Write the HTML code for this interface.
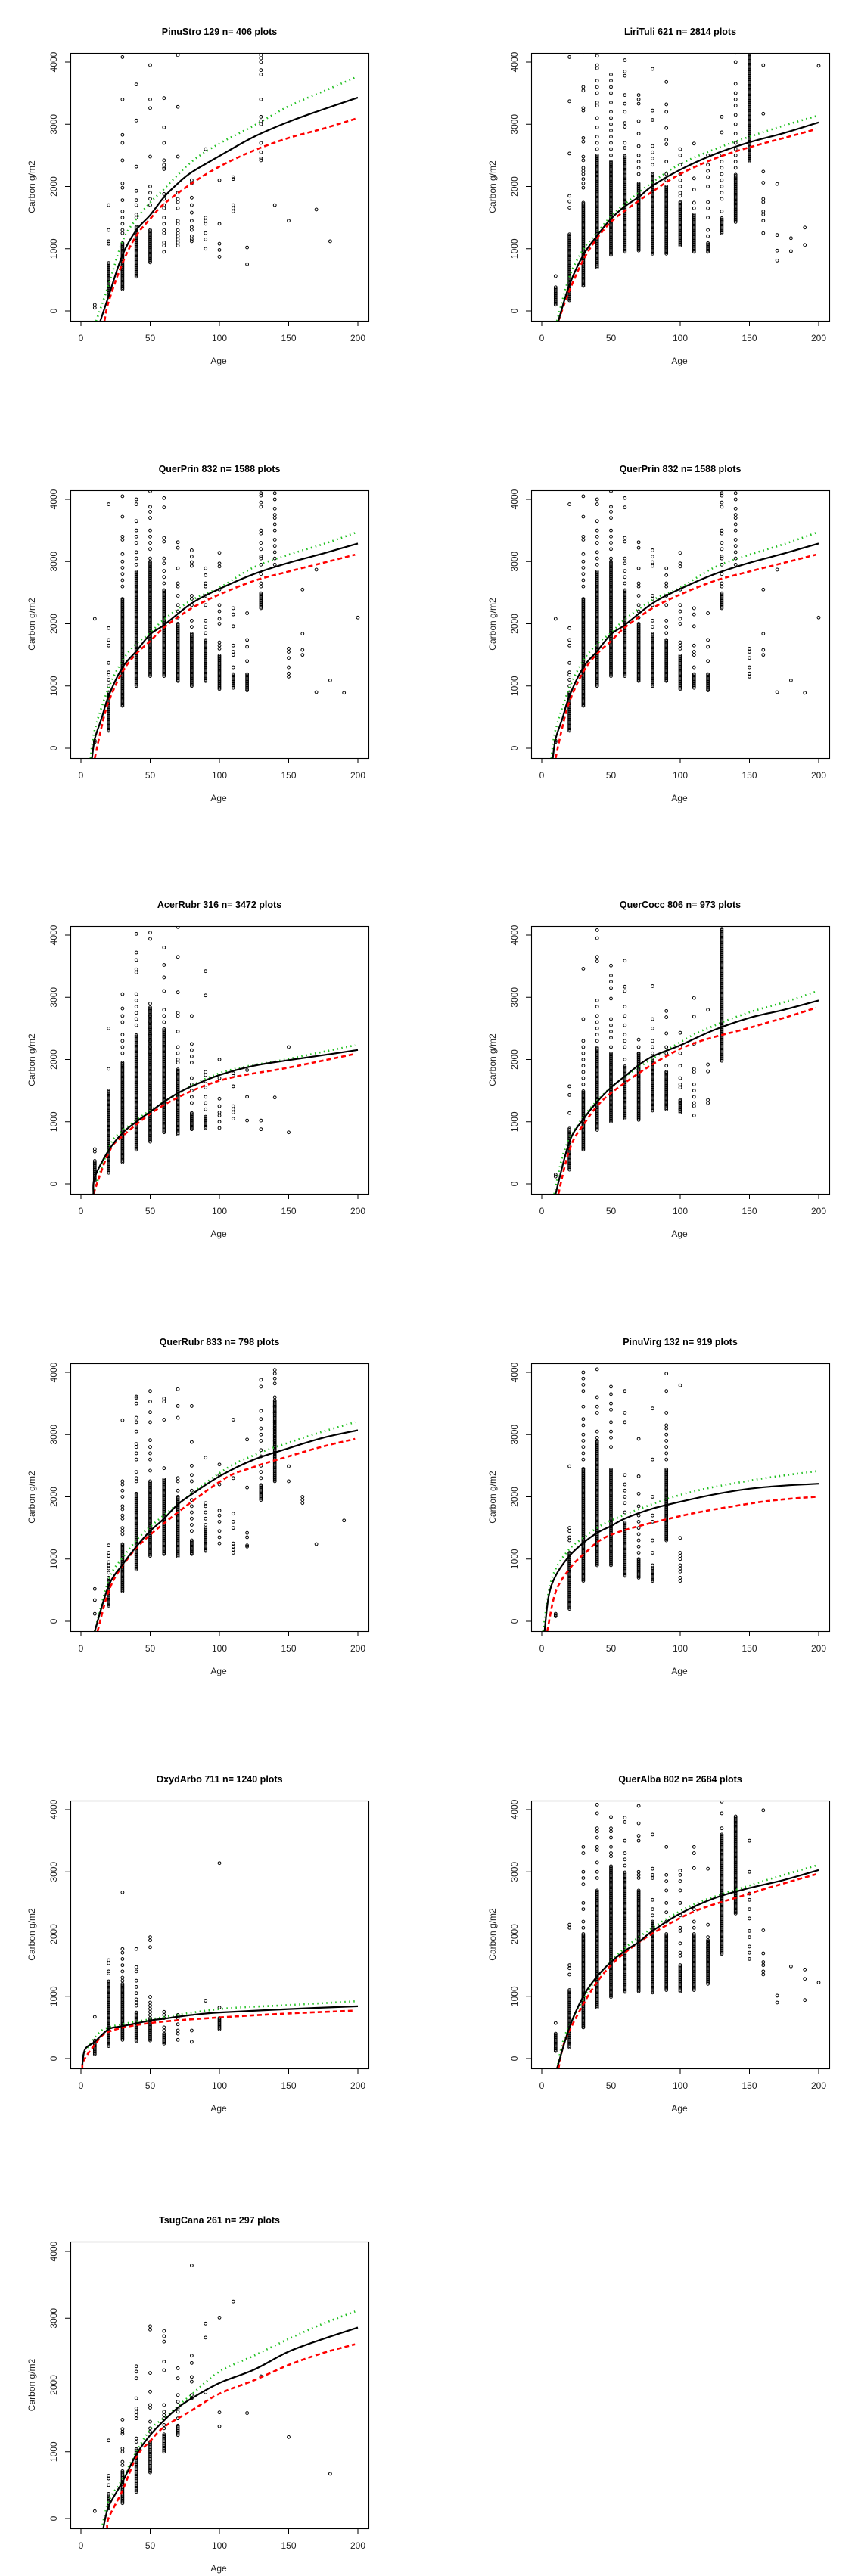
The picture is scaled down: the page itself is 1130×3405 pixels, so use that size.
<!DOCTYPE html>
<html><head><meta charset="utf-8"><style>
html,body{margin:0;padding:0;background:#fff;}
svg{display:block;font-family:"Liberation Sans",Arial,sans-serif;}
</style></head>
<body>
<svg id="chart" width="1130" height="3405" viewBox="0 0 1130 3405" xmlns="http://www.w3.org/2000/svg"></svg>
<script>
const panelTitles = ["PinuStro 129 n= 406 plots","LiriTuli 621 n= 2814 plots","QuerPrin 832 n= 1588 plots","QuerPrin 832 n= 1588 plots","AcerRubr 316 n= 3472 plots","QuerCocc 806 n= 973 plots","QuerRubr 833 n= 798 plots","PinuVirg 132 n= 919 plots","OxydArbo 711 n= 1240 plots","QuerAlba 802 n= 2684 plots","TsugCana 261 n= 297 plots"];
const xTicks = [0,50,100,150,200];
const yTicks = [0,1000,2000,3000,4000];

// dense point columns: [age, low, high]
const pinuStroDense = [[20,250,780],[30,350,1100],[40,550,1350],[50,780,1300]];
const liriTuliDense = [[10,100,380],[20,170,1230],[30,400,1750],[40,700,2500],[50,900,2400],[60,950,2500],[70,970,2050],[80,920,2200],[90,920,2000],[100,1050,1750],[110,950,1550],[120,950,1100],[130,1250,1500],[140,1430,2200],[150,2400,4150]];
const querPrinDense = [[20,280,900],[30,680,2400],[40,1000,2850],[50,1160,3000],[60,1160,2550],[70,1080,2000],[80,1000,1850],[90,1080,1750],[100,950,1500],[110,970,1200],[120,930,1200],[130,2250,2500]];
const acerRubrDense = [[10,50,380],[20,180,1500],[30,350,1950],[40,550,2400],[50,680,2850],[60,830,2500],[70,800,1850],[80,880,1150],[90,900,1080]];
const querCoccDense = [[20,230,900],[30,550,1500],[40,870,2200],[50,1000,2100],[60,1050,1900],[70,1030,2100],[80,1180,2000],[90,1200,1800],[100,1150,1350],[130,1980,4100]];
const querRubrDense = [[20,250,650],[30,480,1250],[40,830,2050],[50,1050,2250],[60,1080,2280],[70,1040,2000],[80,1080,1300],[90,1130,1500],[130,1950,2200],[140,2250,3550]];
const pinuVirgDense = [[10,80,130],[20,200,1100],[30,650,2450],[40,900,2900],[50,900,2450],[60,730,1600],[70,700,1000],[80,650,850],[90,1300,2450]];
const oxydArboDense = [[10,70,300],[20,200,1250],[30,300,1200],[40,280,750],[50,290,650],[60,240,400],[100,470,650]];
const querAlbaDense = [[10,120,400],[20,180,1100],[30,500,2000],[40,820,2700],[50,990,3100],[60,1070,3000],[70,1080,2700],[80,1060,2200],[90,1100,2000],[100,1080,1500],[110,1100,2000],[120,1200,1900],[130,1680,3600],[140,2330,3900]];
const tsugCanaDense = [[20,150,380],[30,230,720],[40,400,1050],[50,690,1150],[60,1000,1270],[70,1250,1400]];

// scattered points: [age, [values]]
const pinuStroPts = [[10,[50,100]],[20,[1700,1300,1120,1080]],[30,[4080,3400,2830,2700,2420,2050,1980,1780,1600,1500,1400,1300,1250]],[40,[3640,3060,2320,1930,1780,1700,1550,1500]],[50,[3950,3400,3260,2480,2000,1900,1800,1700]],[60,[3420,2950,2700,2420,2350,2300,2280,1880,1800,1700,1650,1500,1400,1300,1250,1100,1050,950]],[70,[4110,3280,2480,1900,1800,1750,1650,1450,1400,1300,1250,1200,1150,1100,1050]],[80,[2100,2050,1820,1700,1580,1450,1350,1300,1200,1150,1120]],[90,[2600,1500,1450,1400,1250,1150,1000]],[100,[2100,1400,1080,980,870]],[110,[2150,2120,1700,1650,1600]],[120,[1020,750]],[130,[4110,4060,4000,3870,3800,3400,3120,3050,3000,2700,2550,2450,2420]],[140,[1700]],[150,[1450]],[170,[1630]],[180,[1120]]];
const liriTuliPts = [[10,[560]],[20,[4080,3370,2530,1850,1760,1660]],[30,[4150,3600,3540,3260,3220,2780,2720,2480,2420,2300,2250,2200,2120,2050,1980]],[40,[4100,3950,3900,3700,3600,3500,3350,3300,3100,2950,2800,2700,2600]],[50,[3800,3700,3600,3500,3350,3200,3100,3000,2900,2800,2700,2600,2500]],[60,[4030,3850,3780,3470,3330,3200,3020,2960,2700,2620]],[70,[3470,3400,3330,3050,2850,2650,2500,2400,2300,2200]],[80,[3890,3220,3070,2650,2550,2450,2350]],[90,[3680,3320,3200,2940,2750,2680,2400,2200,2100]],[100,[2600,2500,2350,2200,2100,2000,1900,1850]],[110,[2690,2130,1950,1740,1650]],[120,[2500,2350,2250,2150,2000,1750,1650,1500,1300,1200]],[130,[3120,2870,2500,2400,2300,2200,2100,2000,1900,1800,1600,1450]],[140,[4150,4000,3650,3500,3400,3300,3150,3000,2850,2700,2600,2500,2400,2300]],[160,[3950,3170,2240,2060,1800,1750,1600,1550,1450,1250]],[170,[2040,1220,970,810]],[180,[1170,960]],[190,[1340,1060]],[200,[3940]]];
const querPrinPts = [[10,[2080,120,100]],[20,[3920,1930,1740,1650,1370,1220,1180,1100,1000]],[30,[4050,3720,3400,3350,3120,3000,2900,2800,2700,2600]],[40,[4000,3920,3650,3500,3400,3300,3150,3050,2950]],[50,[4130,3880,3800,3700,3500,3400,3300,3200,3050]],[60,[4020,3870,3380,3320,3050,2970,2850,2750,2650]],[70,[3310,3220,2890,2650,2600,2450,2300,2200,2100]],[80,[3180,3080,2990,2930,2450,2400,2300,2050,1950]],[90,[2890,2780,2650,2600,2450,2300,2050,1950,1850]],[100,[3140,2970,2920,2550,2300,2200,2080,2000,1700,1650,1600]],[110,[2250,2150,1960,1650,1550,1500,1300]],[120,[2170,1740,1630,1400]],[130,[4100,4060,3950,3880,3500,3450,3300,3200,3080,3050,2950,2800,2650,2600]],[140,[4100,4000,3850,3750,3700,3600,3500,3350,3250,3150,3050,2950]],[150,[1600,1550,1450,1300,1200,1150]],[160,[2550,1840,1580,1500]],[170,[2870,900]],[180,[1090]],[190,[890]],[200,[2100]]];
const acerRubrPts = [[10,[560,520]],[20,[2500,1850]],[30,[3050,2820,2700,2600,2400,2300,2200,2100]],[40,[4020,3720,3600,3450,3400,3050,2950,2850,2750,2650,2550]],[50,[4040,3940,2900,2800,2700,2600,2500,2400,2300,2200,2100]],[60,[3800,3520,3320,3100,2800,2700,2600]],[70,[4130,3650,3080,2750,2700,2450,2200,2100,2000,1950]],[80,[2700,2250,2150,2050,1950,1700,1600,1500,1400,1300]],[90,[3420,3030,1800,1750,1650,1550,1400,1300,1200]],[100,[2000,1700,1370,1250,1150,1100,1000,900]],[110,[1780,1740,1570,1250,1200,1150,1050]],[120,[1830,1400,1020]],[130,[1020,880]],[140,[1390]],[150,[2200,830]]];
const querCoccPts = [[10,[150,120]],[20,[1570,1430,1140]],[30,[3460,2650,2300,2200,2100,2000,1900,1800,1700,1600]],[40,[4080,3950,3650,3580,2950,2850,2700,2600,2500,2400,2300]],[50,[3510,3350,3250,3150,2980,2650,2550,2450,2350,2200]],[60,[3590,3170,3100,2850,2700,2550,2400,2300,2200,2000]],[70,[2320,2200,2100]],[80,[3180,2650,2500,2300,2200,2100]],[90,[2780,2680,2420,2200,2100,1900,1800]],[100,[2430,2200,2100,1900,1700,1600,1550,1300,1200]],[110,[2990,2690,2250,1850,1800,1600,1500,1400,1300,1250,1100]],[120,[2800,1920,1810,1350,1300]]];
const querRubrPts = [[10,[520,340,120]],[20,[1220,1100,1050,950,900,850,780,700]],[30,[3230,2250,2200,2100,2000,1850,1800,1700,1650,1500,1450,1400]],[40,[3610,3590,3500,3270,3200,3050,2850,2800,2700,2600,2400,2300,2250]],[50,[3700,3530,3360,3200,2910,2800,2700,2600,2420]],[60,[3580,3530,3240,2460]],[70,[3730,3460,3270,2300,2250,2100]],[80,[3460,2880,2500,2350,2250,2100,1950,1850,1750,1650,1550,1450]],[90,[2630,1900,1850,1750,1650,1550]],[100,[2520,2350,2200,1780,1700,1600,1450,1350,1250]],[110,[3240,2300,1730,1600,1500,1250,1200,1150,1100]],[120,[2920,2150,1420,1350,1220,1200]],[130,[3880,3770,3380,3250,3100,3000,2900,2750,2650,2500,2400,2300]],[140,[4040,3980,3900,3820,3600,3450,3350,3200,3100,3000,2900,2800,2700]],[150,[2490,2250]],[160,[2000,1950,1900]],[170,[1240]],[190,[1620]]];
const pinuVirgPts = [[20,[2490,1500,1450,1350,1300]],[30,[4000,3900,3800,3700,3450,3250,3150,3000,2900,2800,2700,2600]],[40,[4050,3600,3450,3350,3050,2950]],[50,[3770,3650,3500,3400,3200,3050,2950,2800]],[60,[3700,3350,3200,2350,2200,2100,2000,1900,1750]],[70,[2930,2330,2050,1850,1700,1600,1500,1400,1300,1200,1100]],[80,[3420,2600,2000,1700,1600,1300,1100,900]],[90,[3980,3700,3350,3150,3100,3000,2900,2800,2700,2600]],[100,[3790,1340,1100,1050,1000,900,850,800,700,650]]];
const oxydArboPts = [[10,[670]],[20,[1580,1530,1400,1370]],[30,[2670,1760,1700,1600,1500,1400,1300,1250]],[40,[1760,1470,1400,1250,1150,1050,950,900,850]],[50,[1950,1900,1790,990,900,850,800,750,700]],[60,[750,700,650,500,450]],[70,[700,650,550,450,400,300]],[80,[450,270]],[90,[930]],[100,[3140,820]]];
const querAlbaPts = [[10,[570]],[20,[2150,2100,1500,1450,1350]],[30,[3400,3300,3000,2900,2800,2500,2400,2200,2100]],[40,[4080,3940,3700,3650,3550,3400,3350,3150,3000,2900]],[50,[3880,3700,3650,3550,3400,3300,3250]],[60,[3870,3800,3500,3300,3200,3100]],[70,[4060,3780,3580,3500,3000,2950,2900]],[80,[3600,3050,2950,2900,2550,2400,2300]],[90,[3400,2950,2850,2700,2500,2350,2200]],[100,[3020,2950,2850,2700,2500,2300,2100,2050,1850,1700,1650]],[110,[3400,3300,3060,2400,2200,2100]],[120,[3050,2150,1950,1850,1780,1700,1600]],[130,[4130,3940,3700]],[150,[3500,3000,2650,2550,2400,2250,2050,1950,1800,1700,1600]],[160,[3990,2060,1690,1550,1500,1400,1350]],[170,[1010,900]],[180,[1480]],[190,[1430,1280,940]],[200,[1220]]];
const tsugCanaPts = [[10,[110]],[20,[1170,640,600,500]],[30,[1480,1340,1300,1270,1050,1000,850,800]],[40,[2280,2200,2100,1800,1650,1600,1550,1500,1200,1150]],[50,[2880,2830,2180,1900,1700,1660,1450,1350,1300]],[60,[2810,2730,2650,2350,2220,1700,1600,1550,1500,1400,1350,1200,1100]],[70,[2250,2100,1850,1750,1650,1600,1500]],[80,[3790,2440,2330,2120,2050,1850,1800]],[90,[2920,2710,1890]],[100,[3010,1590,1380]],[110,[3250]],[120,[1580]],[130,[2130]],[150,[1220]],[180,[670]]];

// fitted curves: [age, value]
const pinuStroFit = [[14,-160],[20,240],[30,900],[40,1300],[50,1540],[60,1830],[70,2050],[80,2230],[100,2490],[125,2800],[150,3040],[175,3240],[200,3430]];
const pinuStroUpper = [[11,-160],[20,420],[30,1120],[40,1480],[50,1740],[60,1960],[80,2400],[100,2690],[125,2980],[150,3290],[175,3530],[198,3750]];
const pinuStroLower = [[17,-160],[20,150],[30,770],[40,1210],[50,1480],[60,1720],[80,2050],[100,2320],[125,2580],[150,2780],[175,2930],[200,3100]];
const liriTuliFit = [[12,-160],[20,420],[30,900],[40,1210],[50,1480],[60,1680],[70,1830],[80,2010],[100,2270],[125,2520],[150,2710],[175,2860],[200,3030]];
const liriTuliUpper = [[11,-160],[20,550],[30,990],[40,1260],[50,1520],[60,1720],[80,2070],[100,2360],[125,2600],[150,2800],[175,2980],[198,3130]];
const liriTuliLower = [[12,-160],[20,330],[30,820],[40,1170],[50,1430],[60,1610],[80,1920],[100,2200],[125,2450],[150,2630],[175,2780],[198,2920]];
const querPrinFit = [[8,-160],[10,150],[15,485],[20,840],[30,1300],[40,1560],[50,1830],[60,1980],[80,2330],[100,2560],[125,2800],[150,2980],[175,3130],[200,3290]];
const querPrinUpper = [[7,-160],[10,300],[20,970],[30,1410],[40,1680],[50,1850],[60,2070],[80,2380],[100,2580],[125,2910],[150,3110],[175,3280],[198,3460]];
const querPrinLower = [[10,-160],[15,350],[20,750],[30,1230],[40,1520],[50,1720],[60,1940],[80,2250],[100,2470],[125,2690],[150,2840],[175,2980],[198,3110]];
const acerRubrFit = [[9,-160],[10,110],[20,540],[30,820],[40,1000],[50,1160],[60,1320],[70,1460],[80,1570],[100,1750],[125,1900],[150,1990],[175,2070],[200,2155]];
const acerRubrUpper = [[9,-160],[20,570],[30,860],[60,1320],[100,1780],[150,2010],[198,2230]];
const acerRubrLower = [[9,-160],[20,500],[30,770],[60,1270],[100,1660],[150,1870],[198,2090]];
const querCoccFit = [[10,-160],[20,680],[30,1040],[40,1320],[50,1550],[60,1730],[70,1910],[80,2050],[100,2230],[125,2480],[150,2670],[175,2800],[200,2950]];
const querCoccUpper = [[9,-160],[20,730],[50,1550],[100,2280],[125,2550],[150,2760],[175,2920],[198,3090]];
const querCoccLower = [[12,-160],[20,550],[30,950],[50,1460],[100,2170],[150,2510],[175,2670],[198,2830]];
const querRubrFit = [[10,-160],[20,570],[30,910],[40,1200],[50,1450],[60,1650],[70,1880],[80,2040],[100,2330],[125,2600],[150,2780],[175,2950],[200,3070]];
const querRubrUpper = [[10,-160],[20,660],[30,1020],[50,1520],[100,2380],[125,2670],[150,2870],[175,3050],[198,3200]];
const querRubrLower = [[12,-160],[20,480],[30,890],[50,1390],[100,2240],[125,2480],[150,2650],[175,2810],[198,2930]];
const pinuVirgFit = [[2,-160],[5,400],[10,730],[20,1050],[30,1260],[40,1420],[50,1530],[60,1650],[80,1810],[100,1920],[125,2040],[150,2130],[175,2180],[200,2210]];
const pinuVirgUpper = [[1,-160],[5,470],[10,840],[20,1160],[30,1340],[50,1620],[100,2030],[150,2260],[198,2410]];
const pinuVirgLower = [[4,-160],[10,470],[20,840],[30,1070],[50,1390],[100,1690],[150,1890],[175,1960],[198,2000]];
const oxydArboFit = [[1,-100],[3,150],[10,270],[20,470],[30,520],[50,610],[60,640],[80,700],[100,740],[150,795],[200,840]];
const oxydArboUpper = [[1,50],[10,340],[20,500],[50,630],[100,795],[150,860],[198,920]];
const oxydArboLower = [[1,-160],[2,-30],[10,220],[20,430],[50,570],[100,660],[150,725],[198,770]];
const querAlbaFit = [[11,-160],[20,500],[30,1000],[40,1320],[50,1550],[60,1730],[70,1870],[80,2050],[100,2330],[125,2580],[150,2740],[175,2870],[200,3030]];
const querAlbaUpper = [[11,-160],[20,540],[50,1570],[100,2370],[150,2780],[198,3100]];
const querAlbaLower = [[12,-160],[20,450],[50,1500],[100,2260],[150,2650],[198,2960]];
const tsugCanaFit = [[16,-160],[20,180],[30,550],[40,960],[50,1250],[60,1470],[70,1660],[80,1800],[100,2030],[125,2230],[150,2500],[175,2690],[200,2860]];
const tsugCanaUpper = [[15,-160],[20,260],[30,590],[40,1000],[50,1330],[60,1510],[80,1860],[100,2200],[125,2440],[150,2690],[175,2920],[198,3100]];
const tsugCanaLower = [[19,-160],[20,10],[30,420],[40,920],[50,1160],[60,1370],[80,1620],[100,1870],[125,2070],[150,2300],[175,2480],[198,2610]];

const panelDense = [pinuStroDense,liriTuliDense,querPrinDense,querPrinDense,acerRubrDense,querCoccDense,querRubrDense,pinuVirgDense,oxydArboDense,querAlbaDense,tsugCanaDense];
const panelPts = [pinuStroPts,liriTuliPts,querPrinPts,querPrinPts,acerRubrPts,querCoccPts,querRubrPts,pinuVirgPts,oxydArboPts,querAlbaPts,tsugCanaPts];
const panelFit = [pinuStroFit,liriTuliFit,querPrinFit,querPrinFit,acerRubrFit,querCoccFit,querRubrFit,pinuVirgFit,oxydArboFit,querAlbaFit,tsugCanaFit];
const panelUpper = [pinuStroUpper,liriTuliUpper,querPrinUpper,querPrinUpper,acerRubrUpper,querCoccUpper,querRubrUpper,pinuVirgUpper,oxydArboUpper,querAlbaUpper,tsugCanaUpper];
const panelLower = [pinuStroLower,liriTuliLower,querPrinLower,querPrinLower,acerRubrLower,querCoccLower,querRubrLower,pinuVirgLower,oxydArboLower,querAlbaLower,tsugCanaLower];

const NS = "http://www.w3.org/2000/svg";
const svg = document.getElementById("chart");
const rowTops = [70,648,1224,1802,2380,2963];
function mk(tag, attrs, parent){
  const e = document.createElementNS(NS, tag);
  for (const k in attrs) e.setAttribute(k, attrs[k]);
  parent.appendChild(e);
  return e;
}
function slug(t){ return t.split(" ")[0].toLowerCase(); }

panelTitles.forEach((title, i) => {
  const row = Math.floor(i/2), col = i%2;
  const T = rowTops[row];
  const last = row === 5;
  const L = col ? 702 : 93, R = col ? 1096 : 487;
  const B = T + (last ? 379 : 354);
  const y4000 = T + (last ? 13 : 12), y0 = T + (last ? 366 : 341);
  const x0 = col ? 716 : 107, x200 = col ? 1082 : 473;
  const sx = a => x0 + (a/200)*(x200-x0);
  const sy = v => y0 - (v/4000)*(y0-y4000);
  const cx = (L+R)/2;

  const g = mk("g", {}, svg);
  
  

  const clipId = "clip" + i;
  const cp = mk("clipPath", {id: clipId}, g);
  mk("rect", {x:L, y:T, width:R-L, height:B-T}, cp);

  const t = mk("text", {x:cx, y:T-24, "text-anchor":"middle", "font-size":"12.5", "font-weight":"bold", fill:"#000"}, g);
  t.textContent = title;
  
  

  // points
  const pg = mk("g", {"clip-path":"url(#"+clipId+")", fill:"none", stroke:"#000", "stroke-width":"1"}, g);
  
  
  panelDense[i].forEach(d => {
    for (let v = d[1]; v <= d[2]; v += 20) {
      const c = mk("circle", {cx:sx(d[0]), cy:sy(v), r:1.9}, pg);
      
      
    }
  });
  panelPts[i].forEach(p => {
    p[1].forEach(v => {
      const c = mk("circle", {cx:sx(p[0]), cy:sy(v), r:1.9}, pg);
      
      
    });
  });

  // curves (smoothed cardinal spline through the read points)
  const cg = mk("g", {"clip-path":"url(#"+clipId+")", fill:"none"}, g);
  const path = arr => {
    const P = arr.map(p => [sx(p[0]), sy(p[1])]);
    let d = "M" + P[0][0].toFixed(1) + " " + P[0][1].toFixed(1);
    for (let k = 0; k < P.length-1; k++) {
      const p0 = P[Math.max(k-1,0)], p1 = P[k], p2 = P[k+1], p3 = P[Math.min(k+2,P.length-1)];
      const c1 = [p1[0] + (p2[0]-p0[0])/6, p1[1] + (p2[1]-p0[1])/6];
      const c2 = [p2[0] - (p3[0]-p1[0])/6, p2[1] - (p3[1]-p1[1])/6];
      d += " C" + c1[0].toFixed(1) + " " + c1[1].toFixed(1) + " " + c2[0].toFixed(1) + " " + c2[1].toFixed(1) + " " + p2[0].toFixed(1) + " " + p2[1].toFixed(1);
    }
    return d;
  };
  const up = mk("path", {d:path(panelUpper[i]), stroke:"#1fbf1f", "stroke-width":"2.6", "stroke-dasharray":"1.5 4.5"}, cg);
  
  
  const lo = mk("path", {d:path(panelLower[i]), stroke:"#ff0000", "stroke-width":"2.6", "stroke-dasharray":"6 4"}, cg);
  
  
  const fit = mk("path", {d:path(panelFit[i]), stroke:"#000", "stroke-width":"2.2"}, cg);
  
  

  // box
  const box = mk("rect", {x:L+0.5, y:T+0.5, width:R-L, height:B-T, fill:"none", stroke:"#000", "stroke-width":"1.1"}, g);
  
  

  // axes
  const xa = mk("g", {stroke:"#000", "stroke-width":"1"}, g);
  
  
  xTicks.forEach(v => {
    mk("line", {x1:sx(v), x2:sx(v), y1:B, y2:B+7}, xa);
    const lt = mk("text", {x:sx(v), y:B+27, "text-anchor":"middle", "font-size":"12", fill:"#222", stroke:"none"}, g);
    lt.textContent = v;
    
    
  });
  yTicks.forEach(v => {
    mk("line", {x1:L-7, x2:L, y1:sy(v), y2:sy(v)}, xa);
    const lt = mk("text", {x:0, y:0, "text-anchor":"middle", "font-size":"12", fill:"#222", transform:"translate("+(L-18)+","+sy(v)+") rotate(-90)"}, g);
    lt.textContent = v;
    
    
  });
  const xl = mk("text", {x:cx-1, y:B+57, "text-anchor":"middle", "font-size":"12", fill:"#222"}, g);
  xl.textContent = "Age";
  
  
  const yl = mk("text", {x:0, y:0, "text-anchor":"middle", "font-size":"12", fill:"#222", transform:"translate("+(L-47)+","+((T+B)/2)+") rotate(-90)"}, g);
  yl.textContent = "Carbon g/m2";
  
  
});
</script>
</body></html>
